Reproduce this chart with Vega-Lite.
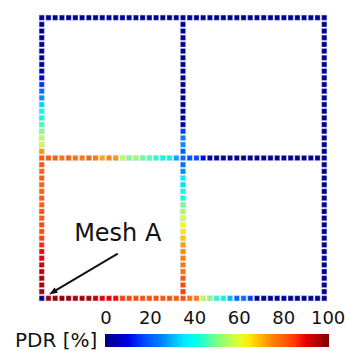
{
  "$schema": "https://vega.github.io/schema/vega-lite/v6.json",
  "autosize": {"type": "none"},
  "padding": {"left": 35, "top": 11, "right": 14, "bottom": 46},
  "width": 296,
  "height": 294,
  "config": {"view": {"stroke": null}, "font": "DejaVu Sans"},
  "datasets": {
    "nodes": [
      {"x":0,"y":0,"p":0},{"x":1,"y":0,"p":97},{"x":2,"y":0,"p":98},{"x":3,"y":0,"p":98},{"x":4,"y":0,"p":97},{"x":5,"y":0,"p":96},{"x":6,"y":0,"p":96},{"x":7,"y":0,"p":95},{"x":8,"y":0,"p":94},{"x":9,"y":0,"p":90},{"x":10,"y":0,"p":89},{"x":11,"y":0,"p":88},{"x":12,"y":0,"p":84},{"x":13,"y":0,"p":83},{"x":14,"y":0,"p":83},{"x":15,"y":0,"p":82},{"x":16,"y":0,"p":82},{"x":17,"y":0,"p":82},{"x":18,"y":0,"p":81},{"x":19,"y":0,"p":82},{"x":20,"y":0,"p":81},{"x":21,"y":0,"p":82},{"x":22,"y":0,"p":77},{"x":23,"y":0,"p":76},{"x":24,"y":0,"p":56},{"x":25,"y":0,"p":50},{"x":26,"y":0,"p":44},{"x":27,"y":0,"p":42},{"x":28,"y":0,"p":30},{"x":29,"y":0,"p":20},{"x":30,"y":0,"p":22},{"x":31,"y":0,"p":16},{"x":32,"y":0,"p":3},{"x":33,"y":0,"p":1},{"x":34,"y":0,"p":1},{"x":35,"y":0,"p":1},{"x":36,"y":0,"p":1},{"x":37,"y":0,"p":1},{"x":38,"y":0,"p":1},{"x":39,"y":0,"p":1},{"x":40,"y":0,"p":1},{"x":41,"y":0,"p":1},{"x":42,"y":0,"p":1},
      {"x":0,"y":1,"p":97},{"x":0,"y":2,"p":96},{"x":0,"y":3,"p":95},{"x":0,"y":4,"p":94},{"x":0,"y":5,"p":93},{"x":0,"y":6,"p":91},{"x":0,"y":7,"p":88},{"x":0,"y":8,"p":86},{"x":0,"y":9,"p":84},{"x":0,"y":10,"p":82},{"x":0,"y":11,"p":83},{"x":0,"y":12,"p":81},{"x":0,"y":13,"p":82},{"x":0,"y":14,"p":80},{"x":0,"y":15,"p":81},{"x":0,"y":16,"p":80},{"x":0,"y":17,"p":80},{"x":0,"y":18,"p":81},{"x":0,"y":19,"p":80},{"x":0,"y":20,"p":81},
      {"x":0,"y":22,"p":73},{"x":0,"y":23,"p":58},{"x":0,"y":24,"p":56},{"x":0,"y":25,"p":50},{"x":0,"y":26,"p":46},{"x":0,"y":27,"p":42},{"x":0,"y":28,"p":40},{"x":0,"y":29,"p":33},{"x":0,"y":30,"p":26},{"x":0,"y":31,"p":22},{"x":0,"y":32,"p":15},{"x":0,"y":33,"p":8},{"x":0,"y":34,"p":4},{"x":0,"y":35,"p":2},{"x":0,"y":36,"p":1},{"x":0,"y":37,"p":1},{"x":0,"y":38,"p":1},{"x":0,"y":39,"p":1},{"x":0,"y":40,"p":1},{"x":0,"y":41,"p":1},
      {"x":0,"y":21,"p":81},{"x":1,"y":21,"p":80},{"x":2,"y":21,"p":80},{"x":3,"y":21,"p":76},{"x":4,"y":21,"p":80},{"x":5,"y":21,"p":77},{"x":6,"y":21,"p":76},{"x":7,"y":21,"p":79},{"x":8,"y":21,"p":76},{"x":9,"y":21,"p":71},{"x":10,"y":21,"p":74},{"x":11,"y":21,"p":73},{"x":12,"y":21,"p":56},{"x":13,"y":21,"p":50},{"x":14,"y":21,"p":53},{"x":15,"y":21,"p":48},{"x":16,"y":21,"p":47},{"x":17,"y":21,"p":44},{"x":18,"y":21,"p":42},{"x":19,"y":21,"p":42},{"x":20,"y":21,"p":28},{"x":21,"y":21,"p":22},{"x":22,"y":21,"p":18},{"x":23,"y":21,"p":17},{"x":24,"y":21,"p":12},{"x":25,"y":21,"p":3},{"x":26,"y":21,"p":1},{"x":27,"y":21,"p":1},{"x":28,"y":21,"p":1},{"x":29,"y":21,"p":1},{"x":30,"y":21,"p":1},{"x":31,"y":21,"p":1},{"x":32,"y":21,"p":1},{"x":33,"y":21,"p":1},{"x":34,"y":21,"p":1},{"x":35,"y":21,"p":1},{"x":36,"y":21,"p":1},{"x":37,"y":21,"p":1},{"x":38,"y":21,"p":1},{"x":39,"y":21,"p":1},{"x":40,"y":21,"p":1},{"x":41,"y":21,"p":1},{"x":42,"y":21,"p":1},
      {"x":21,"y":1,"p":84},{"x":21,"y":2,"p":83},{"x":21,"y":3,"p":81},{"x":21,"y":4,"p":78},{"x":21,"y":5,"p":76},{"x":21,"y":6,"p":75},{"x":21,"y":7,"p":74},{"x":21,"y":8,"p":72},{"x":21,"y":9,"p":68},{"x":21,"y":10,"p":65},{"x":21,"y":11,"p":63},{"x":21,"y":12,"p":58},{"x":21,"y":13,"p":54},{"x":21,"y":14,"p":49},{"x":21,"y":15,"p":43},{"x":21,"y":16,"p":40},{"x":21,"y":17,"p":34},{"x":21,"y":18,"p":36},{"x":21,"y":19,"p":26},{"x":21,"y":20,"p":22},
      {"x":21,"y":22,"p":20},{"x":21,"y":23,"p":26},{"x":21,"y":24,"p":25},{"x":21,"y":25,"p":16},{"x":21,"y":26,"p":4},{"x":21,"y":27,"p":1},{"x":21,"y":28,"p":1},{"x":21,"y":29,"p":1},{"x":21,"y":30,"p":1},{"x":21,"y":31,"p":1},{"x":21,"y":32,"p":1},{"x":21,"y":33,"p":1},{"x":21,"y":34,"p":1},{"x":21,"y":35,"p":1},{"x":21,"y":36,"p":1},{"x":21,"y":37,"p":1},{"x":21,"y":38,"p":1},{"x":21,"y":39,"p":1},{"x":21,"y":40,"p":1},{"x":21,"y":41,"p":1},
      {"x":42,"y":1,"p":1},{"x":42,"y":2,"p":1},{"x":42,"y":3,"p":1},{"x":42,"y":4,"p":1},{"x":42,"y":5,"p":1},{"x":42,"y":6,"p":1},{"x":42,"y":7,"p":1},{"x":42,"y":8,"p":1},{"x":42,"y":9,"p":1},{"x":42,"y":10,"p":1},{"x":42,"y":11,"p":1},{"x":42,"y":12,"p":1},{"x":42,"y":13,"p":1},{"x":42,"y":14,"p":1},{"x":42,"y":15,"p":1},{"x":42,"y":16,"p":1},{"x":42,"y":17,"p":1},{"x":42,"y":18,"p":1},{"x":42,"y":19,"p":1},{"x":42,"y":20,"p":1},
      {"x":42,"y":22,"p":1},{"x":42,"y":23,"p":1},{"x":42,"y":24,"p":1},{"x":42,"y":25,"p":1},{"x":42,"y":26,"p":1},{"x":42,"y":27,"p":1},{"x":42,"y":28,"p":1},{"x":42,"y":29,"p":1},{"x":42,"y":30,"p":1},{"x":42,"y":31,"p":1},{"x":42,"y":32,"p":1},{"x":42,"y":33,"p":1},{"x":42,"y":34,"p":1},{"x":42,"y":35,"p":1},{"x":42,"y":36,"p":1},{"x":42,"y":37,"p":1},{"x":42,"y":38,"p":1},{"x":42,"y":39,"p":1},{"x":42,"y":40,"p":1},{"x":42,"y":41,"p":1},
      {"x":0,"y":42,"p":1},{"x":1,"y":42,"p":1},{"x":2,"y":42,"p":1},{"x":3,"y":42,"p":1},{"x":4,"y":42,"p":1},{"x":5,"y":42,"p":1},{"x":6,"y":42,"p":1},{"x":7,"y":42,"p":1},{"x":8,"y":42,"p":1},{"x":9,"y":42,"p":1},{"x":10,"y":42,"p":1},{"x":11,"y":42,"p":1},{"x":12,"y":42,"p":1},{"x":13,"y":42,"p":1},{"x":14,"y":42,"p":1},{"x":15,"y":42,"p":1},{"x":16,"y":42,"p":1},{"x":17,"y":42,"p":1},{"x":18,"y":42,"p":1},{"x":19,"y":42,"p":1},{"x":20,"y":42,"p":1},{"x":21,"y":42,"p":1},{"x":22,"y":42,"p":1},{"x":23,"y":42,"p":1},{"x":24,"y":42,"p":1},{"x":25,"y":42,"p":1},{"x":26,"y":42,"p":1},{"x":27,"y":42,"p":1},{"x":28,"y":42,"p":1},{"x":29,"y":42,"p":1},{"x":30,"y":42,"p":1},{"x":31,"y":42,"p":1},{"x":32,"y":42,"p":1},{"x":33,"y":42,"p":1},{"x":34,"y":42,"p":1},{"x":35,"y":42,"p":1},{"x":36,"y":42,"p":1},{"x":37,"y":42,"p":1},{"x":38,"y":42,"p":1},{"x":39,"y":42,"p":1},{"x":40,"y":42,"p":1},{"x":41,"y":42,"p":1},{"x":42,"y":42,"p":1}
    ],
    "arrow": [{"x": 11.3, "y": 6.7, "x2": 1.7, "y2": 0.95}],
    "head": [{"x": 1.62, "y": 0.9}],
    "label": [{"x": 11.3, "y": 9.7, "t": "Mesh A"}]
  },
  "layer": [
    {
      "data": {"name": "nodes"},
      "mark": {"type": "point", "shape": "square", "filled": true, "size": 27, "opacity": 1, "stroke": "#c8d0f0", "strokeWidth": 0.4},
      "encoding": {
        "x": {"field": "x", "type": "quantitative", "scale": {"domain": [-1, 43], "nice": false, "zero": false}, "axis": null},
        "y": {"field": "y", "type": "quantitative", "scale": {"domain": [-1, 43], "nice": false, "zero": false}, "axis": null},
        "color": {
          "field": "p", "type": "quantitative",
          "scale": {"type": "linear", "domain": [-0.4, 12.5, 25, 37.5, 50, 62.5, 75, 87.5, 100.4],
                    "range": ["#000080", "#0000ff", "#0080ff", "#00ffff", "#80ff80", "#ffff00", "#ff8000", "#ff0000", "#800000"]},
          "legend": {
            "title": "PDR [%]",
            "orient": "none",
            "direction": "horizontal",
            "legendX": -20,
            "legendY": 323,
            "padding": 0,
            "gradientLength": 224,
            "gradientThickness": 13,
            "gradientStrokeWidth": 0,
            "values": [0, 20, 40, 60, 80, 100],
            "labelFontSize": 18,
            "labelColor": "#111",
            "labelOffset": -37,
            "labelOverlap": false,
            "titleOrient": "left",
            "titleFontSize": 20,
            "titleFontWeight": "normal",
            "titleColor": "#111",
            "titlePadding": 7,
            "titleBaseline": "middle"
          }
        }
      }
    },
    {
      "data": {"name": "arrow"},
      "mark": {"type": "rule", "color": "#111", "strokeWidth": 2},
      "encoding": {
        "x": {"field": "x", "type": "quantitative"},
        "y": {"field": "y", "type": "quantitative"},
        "x2": {"field": "x2"},
        "y2": {"field": "y2"}
      }
    },
    {
      "data": {"name": "head"},
      "mark": {"type": "point", "shape": "M0,-1L0.75,1L-0.75,1Z", "filled": true, "color": "#111", "size": 70, "angle": 239, "opacity": 1},
      "encoding": {
        "x": {"field": "x", "type": "quantitative"},
        "y": {"field": "y", "type": "quantitative"}
      }
    },
    {
      "data": {"name": "label"},
      "mark": {"type": "text", "fontSize": 24, "color": "#111", "align": "center", "baseline": "middle"},
      "encoding": {
        "x": {"field": "x", "type": "quantitative"},
        "y": {"field": "y", "type": "quantitative"},
        "text": {"field": "t"}
      }
    }
  ]
}
